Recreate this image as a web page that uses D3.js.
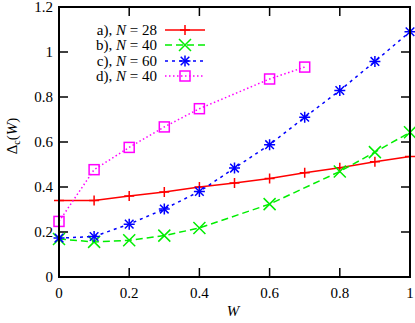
<!DOCTYPE html>
<html>
<head>
<meta charset="utf-8">
<script src="https://cdn.jsdelivr.net/npm/d3@7"></script>
<style>
  body { margin: 0; background: #fff; }
  svg { display: block; }
</style>
</head>
<body>
<div class="chart"></div>
<script>
const xTicks = [0, 0.2, 0.4, 0.6, 0.8, 1];
const yTicks = [0, 0.2, 0.4, 0.6, 0.8, 1, 1.2];

const wA = [0, 0.1, 0.2, 0.3, 0.4, 0.5, 0.6, 0.7, 0.8, 0.9, 1];
const dA = [0.34, 0.34, 0.36, 0.378, 0.40, 0.418, 0.438, 0.463, 0.486, 0.512, 0.536];

const wB = [0, 0.1, 0.2, 0.3, 0.4, 0.6, 0.8, 0.9, 1];
const dB = [0.169, 0.156, 0.163, 0.184, 0.218, 0.324, 0.469, 0.555, 0.643];

const wC = [0, 0.1, 0.2, 0.3, 0.4, 0.5, 0.6, 0.7, 0.8, 0.9, 1];
const dC = [0.173, 0.18, 0.235, 0.302, 0.38, 0.484, 0.588, 0.71, 0.829, 0.958, 1.09];

const wD = [0, 0.1, 0.2, 0.3, 0.4, 0.6, 0.7];
const dD = [0.247, 0.477, 0.576, 0.667, 0.748, 0.88, 0.933];

const seriesNames = ["a), ", "b), ", "c), ", "d), "];
const seriesN = [28, 40, 60, 40];

const margin = { top: 7, right: 5, bottom: 46, left: 59 };
const width = 415, height = 323;
const font = "'Liberation Serif', 'DejaVu Serif', serif";

const svg = d3.select(".chart").append("svg")
  .attr("width", width).attr("height", height)
  .style("font-family", font);

const x = d3.scaleLinear().domain([0, 1]).range([margin.left, width - margin.right]);
const y = d3.scaleLinear().domain([0, 1.2]).range([height - margin.bottom, margin.top]);

const series = [
  { w: wA, d: dA, color: "#ff0000", dash: null, marker: "plus" },
  { w: wB, d: dB, color: "#00ee00", dash: "7,4", marker: "cross" },
  { w: wC, d: dC, color: "#0000ff", dash: "3,4", marker: "star" },
  { w: wD, d: dD, color: "#ff00ff", dash: "1.5,2.5", marker: "square" },
];

// ticks, mirrored inside
const tickLen = 9;
const axisG = svg.append("g");
xTicks.forEach(t => {
  axisG.append("line").attr("x1", x(t)).attr("x2", x(t))
    .attr("y1", y(0)).attr("y2", y(0) - tickLen).attr("stroke", "#000").attr("stroke-width", 1.5);
  axisG.append("line").attr("x1", x(t)).attr("x2", x(t))
    .attr("y1", y(1.2)).attr("y2", y(1.2) + tickLen).attr("stroke", "#000").attr("stroke-width", 1.5);
  axisG.append("text").attr("x", x(t)).attr("y", y(0) + 21)
    .attr("text-anchor", "middle").attr("font-size", 15).text(d3.format("")(t));
});
yTicks.forEach(t => {
  axisG.append("line").attr("x1", x(0)).attr("x2", x(0) + tickLen)
    .attr("y1", y(t)).attr("y2", y(t)).attr("stroke", "#000").attr("stroke-width", 1.5);
  axisG.append("line").attr("x1", x(1)).attr("x2", x(1) - tickLen)
    .attr("y1", y(t)).attr("y2", y(t)).attr("stroke", "#000").attr("stroke-width", 1.5);
  axisG.append("text").attr("x", x(0) - 6).attr("y", y(t) + 5)
    .attr("text-anchor", "end").attr("font-size", 15).text(d3.format("")(t));
});

function drawMarker(g, cx, cy, type, color) {
  const s = type === "star" ? 5.5 : 5;
  if (type === "plus" || type === "star") {
    g.append("path").attr("d", `M${cx - s},${cy}H${cx + s}M${cx},${cy - s}V${cy + s}`)
      .attr("stroke", color).attr("stroke-width", 1.5).attr("fill", "none");
  }
  if (type === "cross" || type === "star") {
    const c = type === "star" ? 4.3 : 6;
    g.append("path").attr("d", `M${cx - c},${cy - c}L${cx + c},${cy + c}M${cx - c},${cy + c}L${cx + c},${cy - c}`)
      .attr("stroke", color).attr("stroke-width", 1.5).attr("fill", "none");
  }
  if (type === "square") {
    g.append("rect").attr("x", cx - 5).attr("y", cy - 5).attr("width", 10).attr("height", 10)
      .attr("stroke", color).attr("stroke-width", 1.5).attr("fill", "none");
  }
}

const line = d3.line().x(p => x(p[0])).y(p => y(p[1]));

series.forEach(s => {
  const pts = s.w.map((w, i) => [w, s.d[i]]);
  const g = svg.append("g");
  g.append("path").datum(pts).attr("d", line)
    .attr("fill", "none").attr("stroke", s.color).attr("stroke-width", 1.5)
    .attr("stroke-dasharray", s.dash);
  pts.forEach(p => drawMarker(g, x(p[0]), y(p[1]), s.marker, s.color));
});

// frame
svg.append("rect").attr("x", x(0)).attr("y", y(1.2))
  .attr("width", x(1) - x(0)).attr("height", y(0) - y(1.2))
  .attr("fill", "none").attr("stroke", "#000").attr("stroke-width", 2);

// legend
const legY = [30, 45, 61, 76];
series.forEach((s, i) => {
  const t = svg.append("text").attr("x", 157).attr("y", legY[i] + 5)
    .attr("text-anchor", "end").attr("font-size", 15);
  t.append("tspan").text(seriesNames[i]);
  t.append("tspan").attr("font-style", "italic").text("N");
  t.append("tspan").text(" = " + seriesN[i]);
  svg.append("line").attr("x1", 165).attr("x2", 205).attr("y1", legY[i]).attr("y2", legY[i])
    .attr("stroke", s.color).attr("stroke-width", 1.5).attr("stroke-dasharray", s.dash);
  drawMarker(svg, 185, legY[i], s.marker, s.color);
});

// axis labels
svg.append("text").attr("x", 233).attr("y", 316)
  .attr("text-anchor", "middle").attr("font-size", 15).attr("font-style", "italic").text("W");

const yl = svg.append("text")
  .attr("transform", "translate(17,136) rotate(-90)")
  .attr("text-anchor", "middle").attr("font-size", 15);
yl.append("tspan").text("Δ");
yl.append("tspan").attr("font-size", 10).attr("dy", 3).text("c");
yl.append("tspan").attr("dy", -3).text("(");
yl.append("tspan").attr("font-style", "italic").text("W");
yl.append("tspan").text(")");
</script>
</body>
</html>
